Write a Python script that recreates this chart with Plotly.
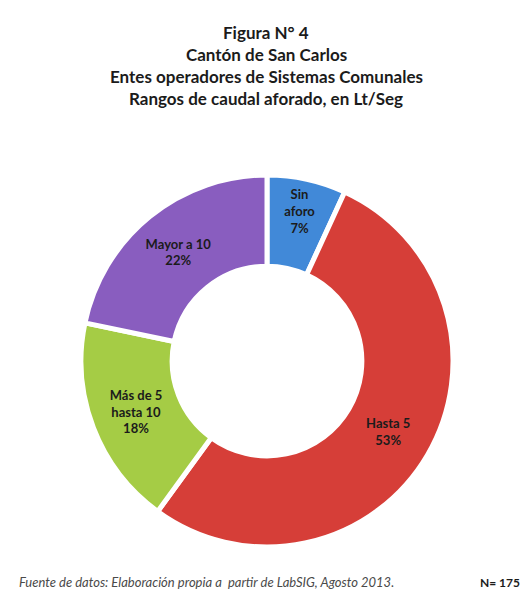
import plotly.graph_objects as go

LABELS = ["Sin aforo", "Hasta 5", "Más de 5 hasta 10", "Mayor a 10"]
SLICE_TEXT = ["Sin<br>aforo", "Hasta 5", "Más de 5<br>hasta 10", "Mayor a 10"]
COUNTS = [12, 93, 32, 38]  # N = 175
COLORS = ["#4189d8", "#d63e38", "#a5cc45", "#895dbf"]

TITLE_LINES = [
    "Figura N° 4",
    "Cantón de San Carlos",
    "Entes operadores de Sistemas Comunales",
    "Rangos de caudal aforado, en Lt/Seg",
]
SOURCE = "Fuente de datos: Elaboración propia a  partir de LabSIG, Agosto 2013."
N_TEXT = "N= 175"

# page body has an 8px margin, so the figure is drawn 8px smaller and
# positions below are page pixels shifted back by that offset
OFF = 8
W, H = 529 - OFF, 591 - OFF
FONT = "Lato, 'Open Sans', sans-serif"
INK = "#1b1b1b"


def px(x, y):
    return (x - OFF) / W, 1 - (y - OFF) / H


x0, y_top = px(81, 175)
x1, y_bot = px(453, 547)

fig = go.Figure(go.Pie(
    labels=LABELS, values=COUNTS, text=SLICE_TEXT,
    texttemplate="<b>%{text}<br>%{percent:.0%}</b>",
    textposition="inside", insidetextorientation="horizontal",
    hole=0.51, sort=False, direction="clockwise", rotation=0,
    marker=dict(colors=COLORS, line=dict(color="#ffffff", width=5)),
    textfont=dict(family=FONT, size=13, color=INK),
    domain=dict(x=[x0, x1], y=[y_bot, y_top]),
    showlegend=False,
))

for line, yc in zip(TITLE_LINES, [32, 54, 76, 98]):
    ax, ay = px(266, yc)
    fig.add_annotation(
        text="<b>" + line + "</b>", x=ax, y=ay, xref="paper", yref="paper",
        xanchor="center", yanchor="middle", showarrow=False,
        font=dict(family=FONT, size=17, color=INK),
    )

sx, sy = px(17, 582)
fig.add_annotation(
    text="<i>" + SOURCE + "</i>", x=sx, y=sy, xref="paper", yref="paper",
    xanchor="left", yanchor="middle", showarrow=False,
    font=dict(family=FONT, size=13, color="#4a4a4a"),
)
nx, ny = px(522, 582)
fig.add_annotation(
    text="<b>" + N_TEXT + "</b>", x=nx, y=ny, xref="paper", yref="paper",
    xanchor="right", yanchor="middle", showarrow=False,
    font=dict(family=FONT, size=12, color=INK),
)

fig.update_layout(
    width=W, height=H,
    margin=dict(l=0, r=0, t=0, b=0),
    paper_bgcolor="#ffffff", plot_bgcolor="#ffffff",
)

fig.write_html("out.html")
